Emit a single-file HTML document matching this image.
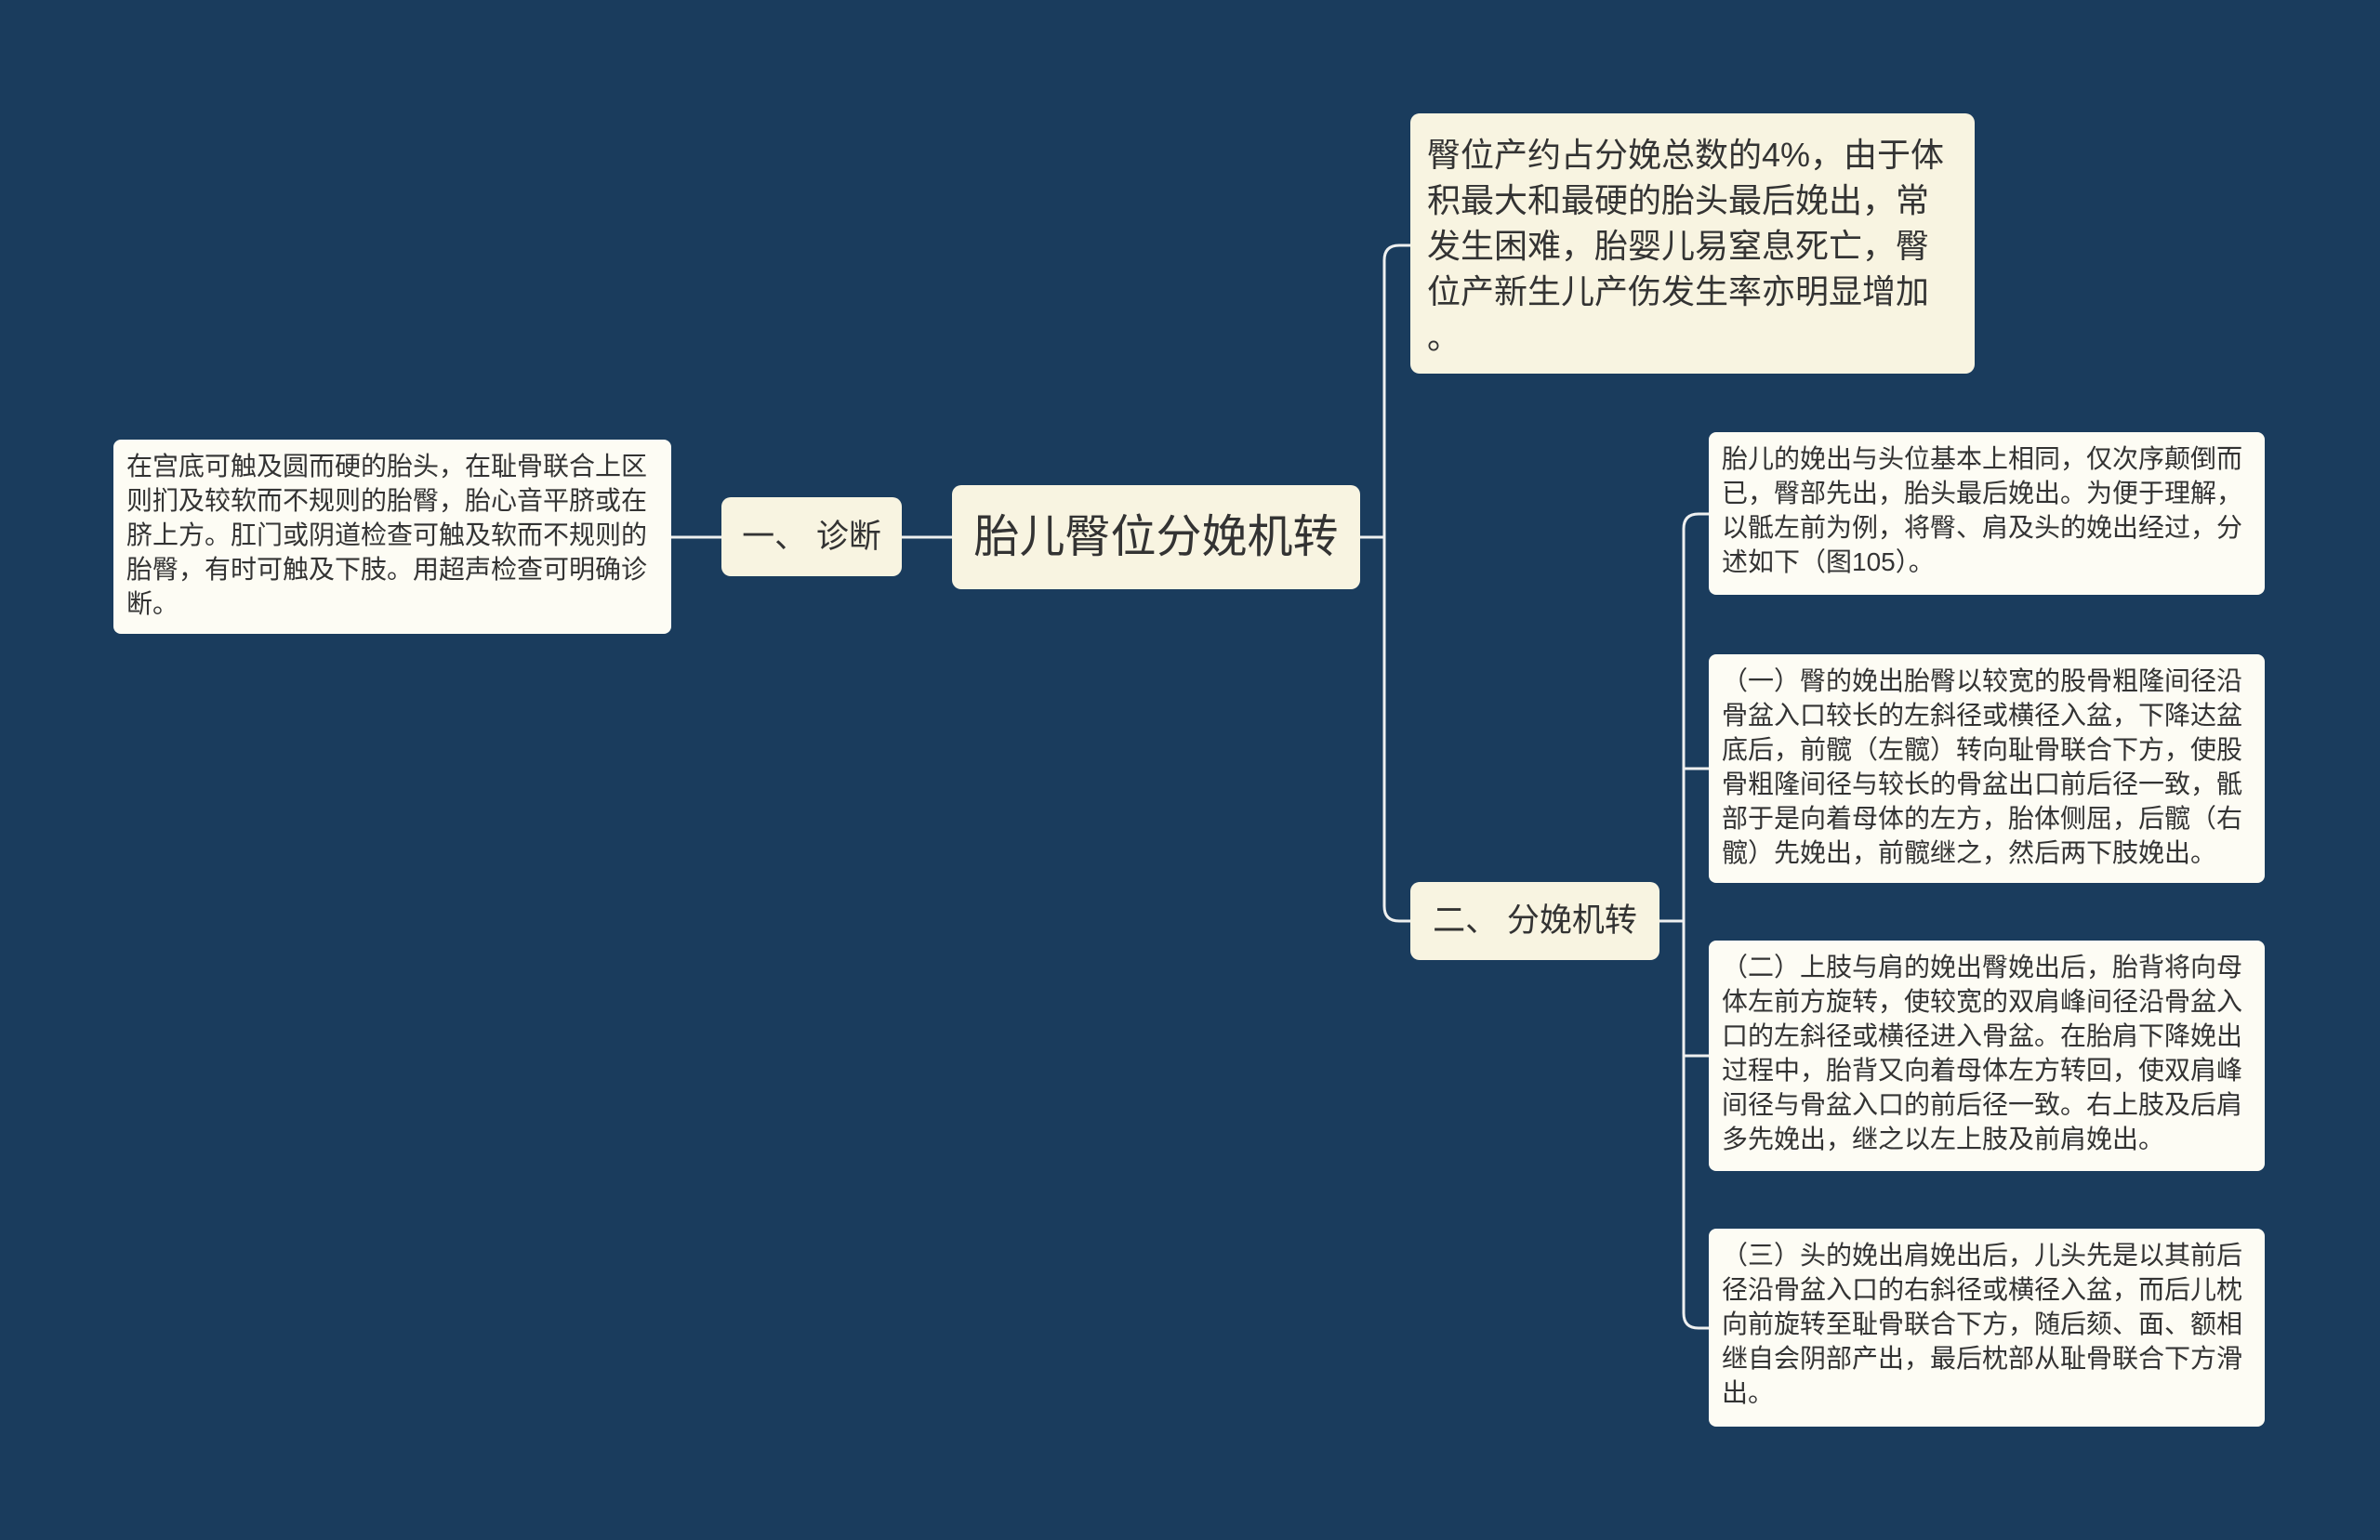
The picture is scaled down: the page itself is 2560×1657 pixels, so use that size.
<!DOCTYPE html>
<html><head><meta charset="utf-8"><style>
body{margin:0;width:2560px;height:1657px;background:#1a3c5d;position:relative;overflow:hidden;font-family:"Liberation Sans","Noto Sans CJK SC",sans-serif;color:#333}
.n{position:absolute;box-sizing:border-box;background:#f8f4e1;border-radius:10px;}
.s{background:#fdfcf4;font-size:28px;line-height:37px;padding:10px 12px 10px 14px;border-radius:8px}
svg{position:absolute;left:0;top:0}
</style></head><body>
<svg width="2560" height="1657"><g fill="none" stroke="#eef0f0" stroke-width="3">
<path d="M1463 578 H1489"/>
<path d="M1517 264 H1505 Q1489 264 1489 280 V975 Q1489 991 1505 991 H1517"/>
<path d="M1024 578 H970"/>
<path d="M776 578 H722"/>
<path d="M1785 991 H1811"/>
<path d="M1838 553 H1827 Q1811 553 1811 569 V1413 Q1811 1429 1827 1429 H1838"/>
<path d="M1811 827 H1838"/>
<path d="M1811 1136 H1838"/>
</g></svg>
<div class="n" style="left:1024px;top:522px;width:439px;height:112px;font-size:49px;line-height:112px;text-align:center">胎儿臀位分娩机转</div>
<div class="n" style="left:1517px;top:122px;width:607px;height:280px;font-size:36px;line-height:49px;padding:20px 19px 20px 18px">臀位产约占分娩总数的4%，由于体积最大和最硬的胎头最后娩出，常发生困难，胎婴儿易窒息死亡，臀位产新生儿产伤发生率亦明显增加<br>。</div>
<div class="n" style="left:776px;top:535px;width:194px;height:85px;font-size:35px;line-height:85px;text-align:center">一、 诊断</div>
<div class="n s" style="left:122px;top:473px;width:600px;height:209px">在宫底可触及圆而硬的胎头，在耻骨联合上区则扪及较软而不规则的胎臀，胎心音平脐或在脐上方。肛门或阴道检查可触及软而不规则的胎臀，有时可触及下肢。用超声检查可明确诊断。</div>
<div class="n" style="left:1517px;top:949px;width:268px;height:84px;font-size:35px;line-height:84px;text-align:center">二、 分娩机转</div>
<div class="n s" style="left:1838px;top:465px;width:598px;height:175px">胎儿的娩出与头位基本上相同，仅次序颠倒而已，臀部先出，胎头最后娩出。为便于理解，以骶左前为例，将臀、肩及头的娩出经过，分述如下（图105）。</div>
<div class="n s" style="left:1838px;top:704px;width:598px;height:246px">（一）臀的娩出胎臀以较宽的股骨粗隆间径沿骨盆入口较长的左斜径或横径入盆，下降达盆底后，前髋（左髋）转向耻骨联合下方，使股骨粗隆间径与较长的骨盆出口前后径一致，骶部于是向着母体的左方，胎体侧屈，后髋（右髋）先娩出，前髋继之，然后两下肢娩出。</div>
<div class="n s" style="left:1838px;top:1012px;width:598px;height:248px">（二）上肢与肩的娩出臀娩出后，胎背将向母体左前方旋转，使较宽的双肩峰间径沿骨盆入口的左斜径或横径进入骨盆。在胎肩下降娩出过程中，胎背又向着母体左方转回，使双肩峰间径与骨盆入口的前后径一致。右上肢及后肩多先娩出，继之以左上肢及前肩娩出。</div>
<div class="n s" style="left:1838px;top:1322px;width:598px;height:213px">（三）头的娩出肩娩出后，儿头先是以其前后径沿骨盆入口的右斜径或横径入盆，而后儿枕向前旋转至耻骨联合下方，随后颏、面、额相继自会阴部产出，最后枕部从耻骨联合下方滑出。</div>
</body></html>
